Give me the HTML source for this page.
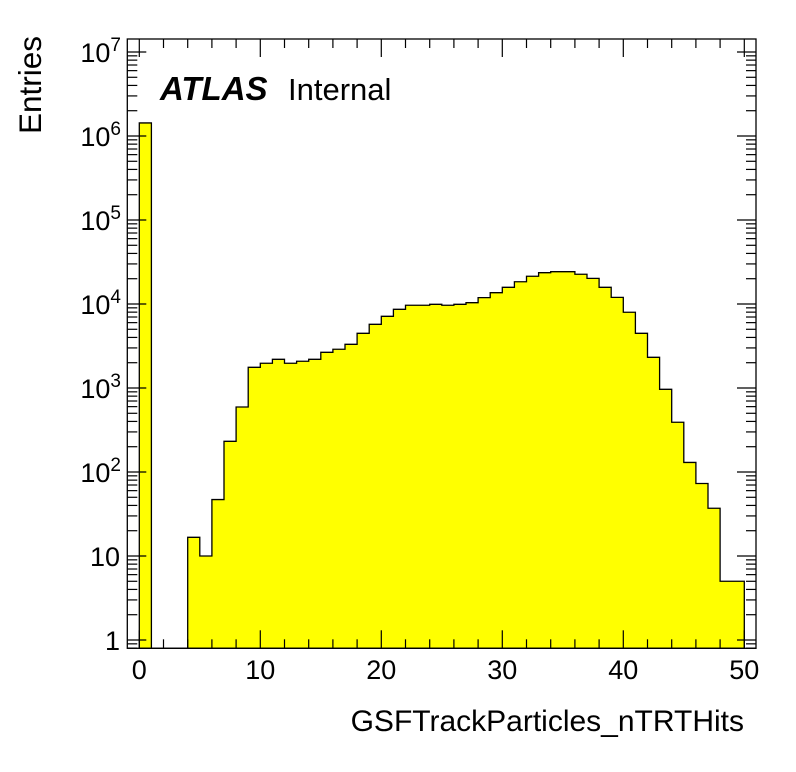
<!DOCTYPE html>
<html><head><meta charset="utf-8">
<style>
html,body{margin:0;padding:0;background:#fff;}
svg{display:block;font-family:"Liberation Sans",sans-serif;}
</style></head>
<body>
<svg id="chart" width="796" height="772" viewBox="0 0 796 772">
  <rect x="0" y="0" width="796" height="772" fill="#fff"/>
  <g id="bars"></g>
  <g id="axes"></g>
  <text x="160" y="100" font-size="33" font-weight="bold" font-style="italic">ATLAS</text>
  <text x="288" y="100" font-size="31">Internal</text>
  <text transform="translate(41,134) rotate(-90)" font-size="31.5">Entries</text>
  <text x="744" y="731" font-size="30" text-anchor="end">GSFTrackParticles_nTRTHits</text>
</svg>
<script>
const binEdgesStart = 0;
const binWidth = 1;
const counts = [1430000,0,0,0,16.7,10,47,232,594,1763,1970,2196,1970,2080,2196,2660,2890,3310,4480,5730,7140,8650,9660,9660,9920,9660,9920,10360,11900,13640,15800,18400,21400,23600,24250,24250,22600,20200,15800,12000,7970,4480,2320,965,391,130,73,37,5,5];
const xTickValues = [0,10,20,30,40,50];
const xTickLabels = ["0","10","20","30","40","50"];
const yDecades = [0,1,2,3,4,5,6,7];

const L=127.3,R=756,T=39,B=648.3;
const x0px=139.3, pxPerUnit=12.1;
const y1px=640, pxPerDecade=84;
function sx(v){return x0px+v*pxPerUnit;}
function sy(v){return y1px-Math.log10(v)*pxPerDecade;}
const NS="http://www.w3.org/2000/svg";
function mk(tag,attrs,parent){const e=document.createElementNS(NS,tag);for(const k in attrs)e.setAttribute(k,attrs[k]);parent.appendChild(e);return e;}

const bars=document.getElementById('bars');
let pts=[];
for(let i=0;i<counts.length;i++){
  const xl=sx(binEdgesStart+i*binWidth), xr=sx(binEdgesStart+(i+1)*binWidth);
  const yt=counts[i]>0?Math.max(T,sy(counts[i])):B;
  pts.push([xl,yt],[xr,yt]);
}
let path="M"+sx(binEdgesStart)+","+B;
pts.forEach(p=>path+=" L"+p[0]+","+p[1]);
path+=" L"+sx(binEdgesStart+counts.length*binWidth)+","+B+" Z";
const fill=mk('path',{d:path,fill:'#ffff00',stroke:'none'},bars);


const outline=mk('path',{d:path,fill:'none',stroke:'#000','stroke-width':1.3},bars);



const axes=document.getElementById('axes');
const frame=mk('rect',{x:L,y:T,width:R-L,height:B-T,fill:'none',stroke:'#000','stroke-width':1.3},axes);


for(let v=-1;v<=51;v++){
  if(v%2!==0 && v%10!==0) continue;
  const x=sx(v); if(x<L||x>R) continue;
  const len=(v%10===0)?18:9;
  mk('line',{x1:x,y1:B,x2:x,y2:B-len,stroke:'#000','stroke-width':1.2},axes);
  mk('line',{x1:x,y1:T,x2:x,y2:T+len,stroke:'#000','stroke-width':1.2},axes);
}
xTickValues.forEach((v,i)=>{
  const t=mk('text',{x:sx(v),y:679,'font-size':27,'text-anchor':'middle'},axes);
  t.textContent=xTickLabels[i];
  
  
});
for(let dcd=-1;dcd<=7;dcd++){
  for(let m=1;m<=9;m++){
    const v=m*Math.pow(10,dcd); const y=sy(v);
    if(y<T||y>B) continue;
    const len=m===1?19:10;
    mk('line',{x1:L,y1:y,x2:L+len,y2:y,stroke:'#000','stroke-width':1.2},axes);
    mk('line',{x1:R,y1:y,x2:R-len,y2:y,stroke:'#000','stroke-width':1.2},axes);
  }
}
yDecades.forEach(p=>{
  const y=sy(Math.pow(10,p));
  const t=mk('text',{x:120,y:y+10,'font-size':27,'text-anchor':'end'},axes);
  
  
  if(p===0){t.textContent="1";}
  else if(p===1){t.textContent="10";}
  else{
    t.textContent="10";
    const s=document.createElementNS(NS,'tspan');
    s.setAttribute('dy','-11');s.setAttribute('font-size','19');
    s.textContent=String(p);t.appendChild(s);
    t.setAttribute('x',121);
  }
});
</script>
</body></html>
